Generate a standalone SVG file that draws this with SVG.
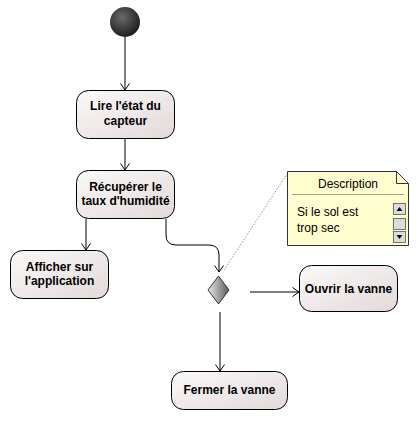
<svg xmlns="http://www.w3.org/2000/svg" width="420" height="421" viewBox="0 0 420 421">
<defs>
<linearGradient id="boxg" x1="0" y1="0" x2="1" y2="1">
<stop offset="0" stop-color="#fbf9f9"/>
<stop offset="1" stop-color="#e3d9d9"/>
</linearGradient>
<radialGradient id="startg" cx="0.4" cy="0.35" r="0.65">
<stop offset="0" stop-color="#6a6a6a"/>
<stop offset="1" stop-color="#1e1e1e"/>
</radialGradient>
<linearGradient id="diag" x1="0" y1="0" x2="1" y2="0">
<stop offset="0" stop-color="#e8e8e8"/>
<stop offset="1" stop-color="#5a5a5a"/>
</linearGradient>
<marker id="arr" viewBox="0 0 8 10" refX="7" refY="5" markerWidth="8" markerHeight="10" markerUnits="userSpaceOnUse" orient="auto">
<path d="M0.5,0.5 L7,5 L0.5,9.5" fill="none" stroke="#000" stroke-width="1"/>
</marker>
</defs>
<style>
.box{fill:url(#boxg);stroke:#000;stroke-width:1}
.lbl{font-family:"Liberation Sans",Arial,sans-serif;font-size:12px;font-weight:bold;fill:#000;text-anchor:middle}
.con{fill:none;stroke:#000;stroke-width:1}
.note{font-family:"Liberation Sans",Arial,sans-serif;font-size:12px;fill:#000}
.sb{fill:#dcdcdc;stroke:#555;stroke-width:0.8}
</style>
<g id="connectors">
<line class="con" x1="125" y1="37" x2="125" y2="90" marker-end="url(#arr)"/>
<line class="con" x1="125" y1="138" x2="125" y2="170" marker-end="url(#arr)"/>
<line class="con" x1="86" y1="219" x2="86" y2="250" marker-end="url(#arr)"/>
<path class="con" d="M166,219 L166,235 Q166,245 176,245 L209,245 Q219,245 219,255 L219,272" marker-end="url(#arr)"/>
<line class="con" x1="250" y1="292" x2="299" y2="292" marker-end="url(#arr)"/>
<line class="con" x1="220" y1="312" x2="220" y2="371" marker-end="url(#arr)"/>
<line x1="224" y1="270" x2="287" y2="174" stroke="#999" stroke-width="1" stroke-dasharray="1.5,1.5"/>
</g>
<g id="start">
<circle cx="125" cy="22" r="15" fill="url(#startg)"/>
</g>
<g id="lire">
<rect class="box" x="76.5" y="90.5" width="98" height="48" rx="12"/>
<text class="lbl" x="125.5" y="110">Lire l'état du</text>
<text class="lbl" x="125.5" y="125">capteur</text>
</g>
<g id="recuperer">
<rect class="box" x="76.5" y="170.5" width="98" height="48" rx="12"/>
<text class="lbl" x="125.5" y="191">Récupérer le</text>
<text class="lbl" x="125.5" y="205">taux d'humidité</text>
</g>
<g id="afficher">
<rect class="box" x="10.5" y="250.5" width="98" height="48" rx="12"/>
<text class="lbl" x="59.5" y="271">Afficher sur</text>
<text class="lbl" x="59.5" y="285">l'application</text>
</g>
<g id="decision">
<path d="M218.5,276 L229,290 L218.5,304 L208,290 Z" fill="url(#diag)" stroke="#333" stroke-width="1"/>
</g>
<g id="ouvrir">
<rect class="box" x="299.5" y="265.5" width="98" height="46" rx="12"/>
<text class="lbl" x="348.5" y="293">Ouvrir la vanne</text>
</g>
<g id="fermer">
<rect class="box" x="171.5" y="371.5" width="116" height="38" rx="12"/>
<text class="lbl" x="229.5" y="394">Fermer la vanne</text>
</g>
<g id="note">
<path d="M287.5,171.5 L396.5,171.5 L408.5,183.5 L408.5,245.5 L287.5,245.5 Z" fill="#fefdcd" stroke="#333" stroke-width="1"/>
<path d="M396.5,171.5 L396.5,183.5 L408.5,183.5" fill="none" stroke="#333" stroke-width="1"/>
<line x1="292" y1="194.5" x2="404" y2="194.5" stroke="#a9a48a" stroke-width="1"/>
<text class="note" x="348" y="188" text-anchor="middle">Description</text>
<text class="note" x="297" y="216">Si le sol est</text>
<text class="note" x="297" y="232">trop sec</text>
<rect class="sb" x="393.5" y="203.5" width="12" height="11"/>
<path d="M396.5,211 L399.5,207 L402.5,211 Z" fill="#000"/>
<rect class="sb" x="393.5" y="218.5" width="12" height="11"/>
<rect class="sb" x="393.5" y="231.5" width="12" height="11"/>
<path d="M396.5,235 L399.5,239 L402.5,235 Z" fill="#000"/>
</g>
</svg>
